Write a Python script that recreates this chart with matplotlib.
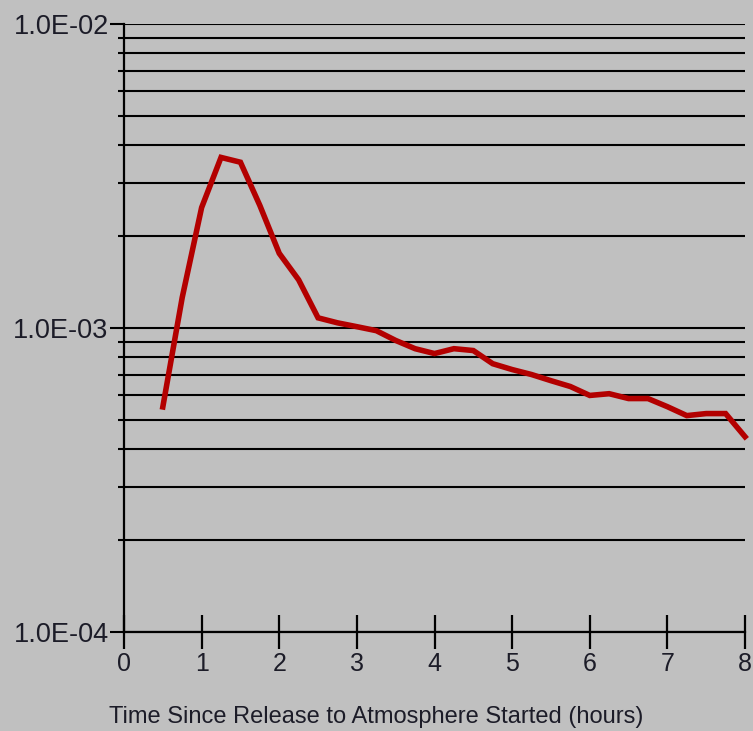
import matplotlib
matplotlib.use("Agg")
import matplotlib.pyplot as plt
from matplotlib.ticker import LogLocator, FixedLocator, NullFormatter, FuncFormatter

hours = [0.5, 0.75, 1.0, 1.25, 1.5, 1.75, 2.0, 2.25, 2.5, 2.75, 3.0, 3.25, 3.5,
         3.75, 4.0, 4.25, 4.5, 4.75, 5.0, 5.25, 5.5, 5.75, 6.0, 6.25, 6.5,
         6.75, 7.0, 7.25, 7.5, 7.75, 8.0]
values = [5.5e-4, 1.26e-3, 2.49e-3, 3.64e-3, 3.51e-3, 2.53e-3, 1.76e-3, 1.44e-3,
          1.08e-3, 1.04e-3, 1.01e-3, 0.98e-3, 0.91e-3, 0.855e-3, 0.824e-3,
          0.855e-3, 0.843e-3, 0.763e-3, 0.73e-3, 0.703e-3, 0.671e-3, 0.642e-3,
          0.60e-3, 0.608e-3, 0.586e-3, 0.586e-3, 0.551e-3, 0.515e-3, 0.523e-3,
          0.523e-3, 0.439e-3]
x_ticks = [0, 1, 2, 3, 4, 5, 6, 7, 8]
xlabel = "Time Since Release to Atmosphere Started (hours)"

plt.rcParams['font.family'] = ['Liberation Sans', 'DejaVu Sans']
bg = '#c0c0c0'
txt = '#1c1c28'

fig = plt.figure(figsize=(7.53, 7.31), dpi=100, facecolor=bg)
ax = fig.add_axes([124/753, 1-632/731, (745-124)/753, (632-24)/731])
ax.set_facecolor(bg)

ax.set_yscale('log')
ax.set_ylim(1e-4, 1e-2)
ax.set_xlim(0, 8)

ax.yaxis.set_major_locator(LogLocator(base=10, numticks=10))
ax.yaxis.set_minor_locator(LogLocator(base=10, subs=range(2, 10), numticks=20))
ax.yaxis.set_major_formatter(FuncFormatter(lambda v, p: f"{v:.1E}"))
ax.yaxis.set_minor_formatter(NullFormatter())
ax.xaxis.set_major_locator(FixedLocator(x_ticks))
ax.set_xticklabels([str(t) for t in x_ticks])

ax.grid(True, which='both', axis='y', color='black', linewidth=1.5)
ax.grid(False, axis='x')
ax.set_axisbelow(True)

for s in ['top', 'right']:
    ax.spines[s].set_visible(False)
for s in ['left', 'bottom']:
    ax.spines[s].set_color('black')
    ax.spines[s].set_linewidth(1.6)

ax.tick_params(axis='y', which='major', direction='out', length=10, width=1.5,
               color='black', labelsize=19.5, labelcolor=txt, pad=1)
ax.tick_params(axis='y', which='minor', direction='out', length=4, width=1.5,
               color='black')
ax.tick_params(axis='x', which='major', direction='inout', length=25, width=1.6,
               color='black', labelsize=18, labelcolor=txt, pad=2)

ax.plot(hours, values, color='#b30000', linewidth=4.0, solid_joinstyle='miter',
        clip_on=False, zorder=5)

fig.text(0.5, 1-717/731, xlabel, ha='center', va='center', fontsize=17, color=txt)

fig.savefig('out.png', dpi=100, facecolor=bg)
